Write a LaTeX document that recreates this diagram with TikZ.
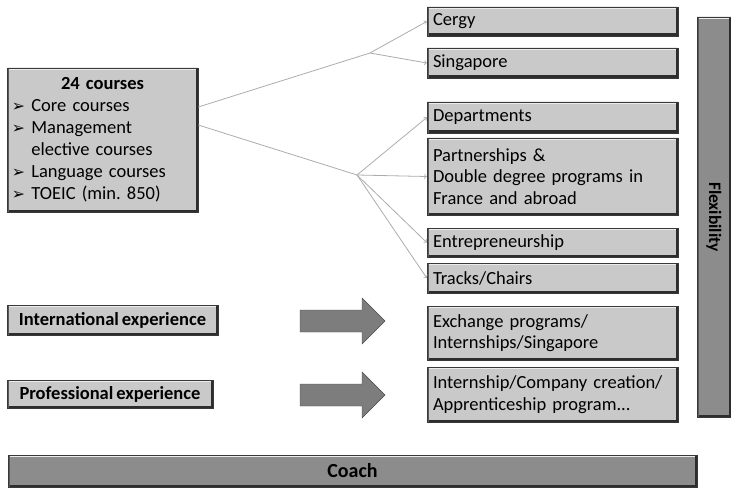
\documentclass[tikz,border=0pt]{standalone}
\usepackage{fontspec}
\setmainfont{Carlito}[WordSpace=0.7]
\newfontfamily\dejavu{DejaVu Sans}
\usepackage{tikz}
\usetikzlibrary{positioning}

\definecolor{boxgray}{RGB}{201,201,201}
\definecolor{bargray}{RGB}{140,140,140}
\definecolor{arrowgray}{RGB}{125,125,125}
\definecolor{linegray}{RGB}{172,172,172}
\newcommand{\bul}{{\dejavu\scalebox{0.85}{➢}}\ }

\begin{document}
\frenchspacing
\begin{tikzpicture}[x=1pt, y=-1pt, >=to]
    \tikzstyle{bevel} = [draw=gray!45!black, line width=0.5pt, inner sep=0pt,
        path picture={
            \draw[white!85!gray, line width=4pt] (path picture bounding box.north west) -- (path picture bounding box.north east);
            \draw[gray!35!black, line width=5pt] (path picture bounding box.south west) -- (path picture bounding box.south east) -- (path picture bounding box.north east);
            \draw[gray!70!black, line width=3pt] (path picture bounding box.south west) -- (path picture bounding box.north west);
        }]
    \tikzstyle{opt} = [bevel, fill=boxgray, minimum width=251pt, text width=239pt, align=left,
        font=\fontsize{18.5}{21.5}\selectfont]
    \tikzstyle{exp} = [bevel, fill=boxgray, align=center, font=\fontsize{18.5}{20}\selectfont\bfseries]
    \tikzstyle{bar} = [bevel, fill=bargray, font=\fontsize{20}{22}\selectfont\bfseries]
    \tikzstyle{link} = [draw=linegray, line width=0.8pt]
    \tikzstyle{fat} = [fill=arrowgray, draw=gray!60!black, line width=0.4pt]

    \useasboundingbox (0,0) rectangle (731,492);

    % left column
    \node[bevel, fill=boxgray, minimum width=191pt, minimum height=144pt, text width=181pt,
          align=left, font=\fontsize{18.5}{22}\selectfont] (courses) at (102.5,140)
        {\makebox[181pt]{\bfseries 24 courses}\\
         \bul Core courses\\
         \bul Management\\
         \hphantom{\bul}elective courses\\
         \bul Language courses\\
         \bul TOEIC (min. 850)};
    \node[exp, minimum width=211pt, minimum height=30pt] (intl) at (112.5,320) {International experience};
    \node[exp, minimum width=206pt, minimum height=28pt] (prof) at (110,394) {Professional experience};

    % right column
    \node[opt, minimum height=29pt] (cergy) at (552.5,21.5) {Cergy};
    \node[opt, minimum height=30pt] (sing) at (552.5,63) {Singapore};
    \node[opt, minimum height=31pt] (dept) at (552.5,117.5) {Departments};
    \node[opt, minimum height=77pt] (partner) at (552.5,176.5)
        {Partnerships \&\\ Double degree programs in\\ France and abroad};
    \node[opt, minimum height=29pt] (entre) at (552.5,242.5) {Entrepreneurship};
    \node[opt, minimum height=30pt] (tracks) at (552.5,278) {Tracks/Chairs};
    \node[opt, minimum height=54pt] (exch) at (552.5,333) {Exchange programs/\\ Internships/Singapore};
    \node[opt, minimum height=55pt] (intern) at (552.5,394.5) {Internship/Company creation/\\ Apprenticeship program...};

    % bars
    \node[bar, minimum width=34pt, minimum height=400pt,
          label={[rotate=-90, font=\fontsize{17.5}{20}\selectfont\bfseries]center:Flexibility}] (flex) at (714,217) {};
    \node[bar, minimum width=689pt, minimum height=32pt] (coach) at (352.5,471) {Coach};

    % branching links
    \coordinate (campus) at (370,53);
    \coordinate (choice) at (357,175);
    \path[link]
        ([yshift=33pt]courses.east) edge (campus)
        ([yshift=15pt]courses.east) edge (choice)
        (campus) edge[->] (cergy.west)
        (campus) edge[->] (sing.west)
        (choice) edge[->] (dept.west)
        (choice) edge[->] (partner.west)
        (choice) edge[->] (entre.west)
        (choice) edge[->] (tracks.west);

    % block arrows
    \fill[fat, shift={(300,321)}] (0,-11) -- (62,-11) -- (62,-23) -- (85,0) -- (62,23) -- (62,11) -- (0,11) -- cycle;
    \fill[fat, shift={(300,395)}] (0,-11) -- (62,-11) -- (62,-23) -- (85,0) -- (62,23) -- (62,11) -- (0,11) -- cycle;
\end{tikzpicture}
\end{document}
